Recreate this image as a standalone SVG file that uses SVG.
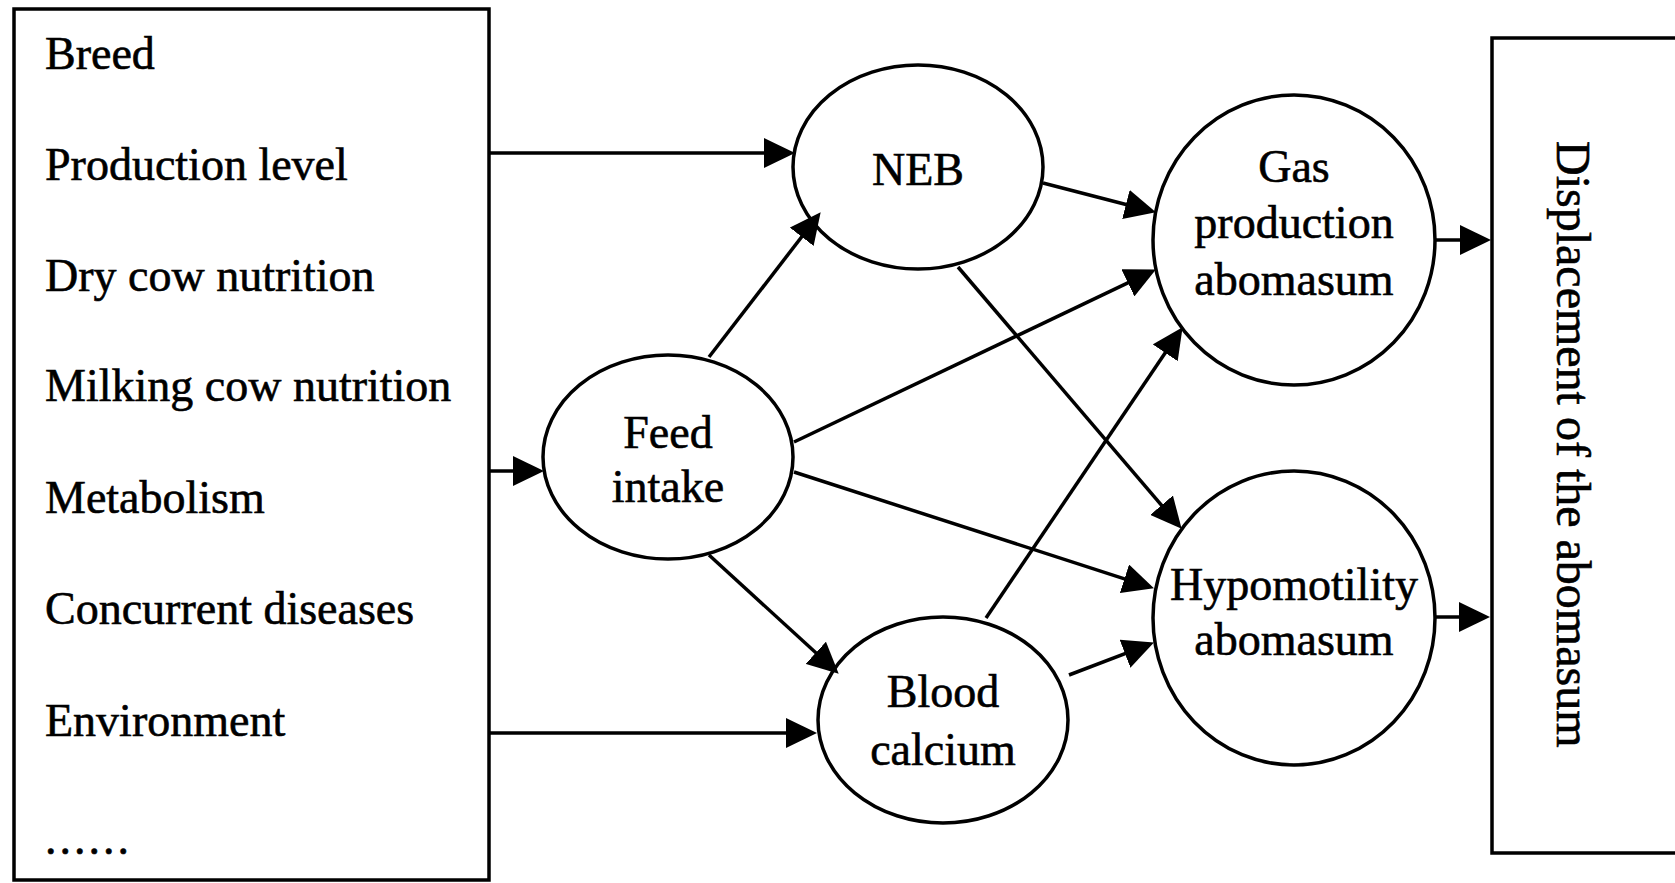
<svg xmlns="http://www.w3.org/2000/svg" width="1675" height="883" viewBox="0 0 1675 883">
<style>
.box{fill:#fff;stroke:#000;stroke-width:3.5}
.node{fill:#fff;stroke:#000;stroke-width:3.5}
.t{font-family:"Liberation Serif","Times New Roman",serif;font-size:46px;fill:#000;stroke:#000;stroke-width:0.6}
.c{text-anchor:middle}
.conn line{stroke:#000;stroke-width:3.5;marker-end:url(#ah)}
</style>
<defs>
<marker id="ah" viewBox="0 0 31 30" refX="26" refY="15" markerWidth="31" markerHeight="30" markerUnits="userSpaceOnUse" orient="auto">
<path d="M0,0 L31,15 L0,30 z" fill="#000"/>
</marker>
</defs>
<rect width="1675" height="883" fill="#fff"/>
<g id="factors">
<rect class="box" x="14" y="9" width="475" height="871"/>
<text class="t" x="45" y="69">Breed</text>
<text class="t" x="45" y="180">Production level</text>
<text class="t" x="45" y="291">Dry cow nutrition</text>
<text class="t" x="45" y="401">Milking cow nutrition</text>
<text class="t" x="45" y="513">Metabolism</text>
<text class="t" x="45" y="624">Concurrent diseases</text>
<text class="t" x="45" y="736">Environment</text>
<text class="t" x="45" y="854" style="letter-spacing:3px">......</text>
</g>
<g id="outcome">
<rect class="box" x="1492" y="38" width="200" height="815"/>
<text class="t" transform="translate(1557,141) rotate(90)" style="font-size:48px">Displacement of the abomasum</text>
</g>
<g id="neb">
<ellipse class="node" cx="918" cy="167" rx="125" ry="102"/>
<text class="t c" x="918" y="185">NEB</text>
</g>
<g id="feed">
<ellipse class="node" cx="668" cy="457" rx="125" ry="102"/>
<text class="t c" x="668" y="448">Feed</text>
<text class="t c" x="668" y="502">intake</text>
</g>
<g id="blood">
<ellipse class="node" cx="943" cy="720" rx="125" ry="103"/>
<text class="t c" x="943" y="707">Blood</text>
<text class="t c" x="943" y="765">calcium</text>
</g>
<g id="gas">
<ellipse class="node" cx="1294" cy="240" rx="141" ry="145"/>
<text class="t c" x="1294" y="182">Gas</text>
<text class="t c" x="1294" y="238">production</text>
<text class="t c" x="1294" y="295">abomasum</text>
</g>
<g id="hypo">
<ellipse class="node" cx="1294" cy="618" rx="141" ry="147"/>
<text class="t c" x="1294" y="600">Hypomotility</text>
<text class="t c" x="1294" y="655">abomasum</text>
</g>
<g id="connectors" class="conn">
<line x1="489" y1="153" x2="790" y2="153"/>
<line x1="489" y1="471" x2="539" y2="471"/>
<line x1="489" y1="733" x2="812" y2="733"/>
<line x1="709" y1="357" x2="817.6" y2="216.2"/>
<line x1="709" y1="555" x2="835" y2="670.3"/>
<line x1="794" y1="442" x2="1151.4" y2="271.7"/>
<line x1="794" y1="472" x2="1149.2" y2="586.8"/>
<line x1="1043" y1="183" x2="1151.1" y2="211"/>
<line x1="958" y1="267" x2="1178.4" y2="525"/>
<line x1="986" y1="618" x2="1179.8" y2="331.3"/>
<line x1="1069" y1="675" x2="1149.3" y2="644.4"/>
<line x1="1435" y1="240" x2="1486" y2="240"/>
<line x1="1435" y1="617" x2="1485" y2="617"/>
</g>
</svg>
